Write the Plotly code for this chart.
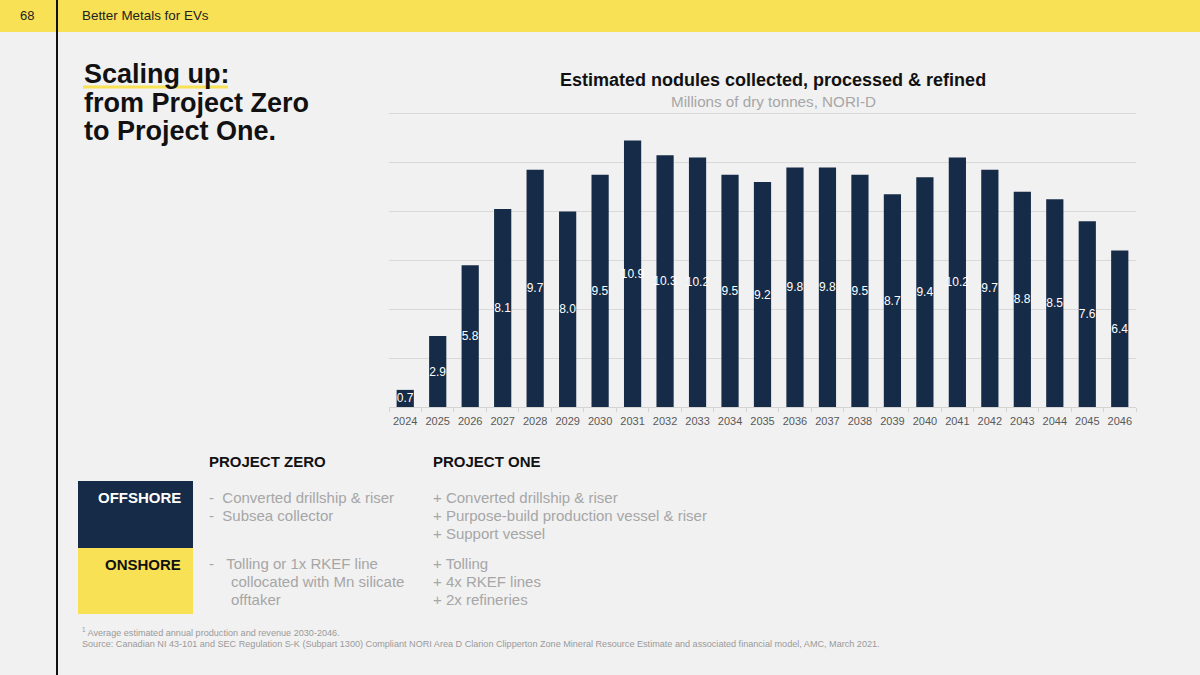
import plotly.graph_objects as go

years = [str(y) for y in range(2024, 2047)]
values = [0.7, 2.9, 5.8, 8.1, 9.7, 8.0, 9.5, 10.9, 10.3, 10.2, 9.5, 9.2,
          9.8, 9.8, 9.5, 8.7, 9.4, 10.2, 9.7, 8.8, 8.5, 7.6, 6.4]
value_labels = [f"{v:.1f}" for v in values]

chart_title = "Estimated nodules collected, processed & refined"
chart_subtitle = "Millions of dry tonnes, NORI-D"

zero_offshore = ["-  Converted drillship & riser", "-  Subsea collector"]
one_offshore = ["+ Converted drillship & riser", "+ Purpose-build production vessel & riser", "+ Support vessel"]
zero_onshore = ["-   Tolling or 1x RKEF line", "collocated with Mn silicate", "offtaker"]
one_onshore = ["+ Tolling", "+ 4x RKEF lines", "+ 2x refineries"]

W, H = 1200, 675
NAVY = "#162B47"
YELLOW = "#F8E154"
BG = "#F1F1F1"
FONT = "Arial, Liberation Sans, sans-serif"


def px(x):
    return x / W


def py(y):
    return 1 - y / H


fig = go.Figure()
fig.add_trace(go.Bar(
    x=years, y=values, text=value_labels,
    marker_color=NAVY, marker_line_width=0,
    textposition="inside", insidetextanchor="middle",
    textangle=0, constraintext="none",
    textfont=dict(color="white", size=12, family=FONT),
    cliponaxis=False, hoverinfo="skip",
))

fig.update_layout(
    width=W, height=H, margin=dict(l=0, r=0, t=0, b=0),
    paper_bgcolor=BG, plot_bgcolor=BG, showlegend=False,
    bargap=0.47,
    font=dict(family=FONT),
    xaxis=dict(domain=[px(389), px(1136)], showgrid=False,
               showline=True, linecolor="#D4D4D4", linewidth=1,
               ticks="outside", tickson="boundaries", ticklen=4, tickcolor="#D4D4D4",
               tickangle=0, ticklabelstandoff=4,
               tickfont=dict(size=11, color="#595959", family=FONT)),
    yaxis=dict(domain=[py(407), py(407 - 12.5 * 24.45)], range=[0, 12.5], dtick=2,
               showgrid=True, gridcolor="#D9D9D9", gridwidth=1,
               zeroline=False, showticklabels=False),
)

shapes = [
    dict(type="rect", xref="paper", yref="paper", x0=0, x1=1, y0=py(32), y1=1,
         fillcolor=YELLOW, line_width=0, layer="below"),
    dict(type="line", xref="paper", yref="paper", x0=px(57), x1=px(57), y0=0, y1=1,
         line=dict(color="#111111", width=2)),
    dict(type="line", xref="paper", yref="paper", x0=px(83), x1=px(228), y0=py(87), y1=py(87),
         line=dict(color=YELLOW, width=3)),
    dict(type="rect", xref="paper", yref="paper", x0=px(78), x1=px(193), y0=py(548), y1=py(481),
         fillcolor=NAVY, line_width=0),
    dict(type="rect", xref="paper", yref="paper", x0=px(78), x1=px(193), y0=py(614), y1=py(548),
         fillcolor=YELLOW, line_width=0),
]
fig.update_layout(shapes=shapes)

ann = []


def text(x, y, s, size, color, bold=False, xanchor="left"):
    ann.append(dict(xref="paper", yref="paper", x=px(x), y=py(y), text=(f"<b>{s}</b>" if bold else s),
                    showarrow=False, xanchor=xanchor, yanchor="middle",
                    font=dict(size=size, color=color, family=FONT)))


text(27, 16, "68", 13, "#222222", xanchor="center")
text(80, 16, "Better Metals for EVs", 13.4, "#222222")

text(82, 74, "Scaling up:", 27, "#111111", bold=True)
text(82, 103, "from Project Zero", 27, "#111111", bold=True)
text(82, 131, "to Project One.", 27, "#111111", bold=True)

text(773, 80, chart_title, 18, "#111111", bold=True, xanchor="center")
text(773, 101, chart_subtitle, 15.2, "#A6A6A6", xanchor="center")

text(207, 461, "PROJECT ZERO", 15, "#111111", bold=True)
text(431, 461, "PROJECT ONE", 15, "#111111", bold=True)
text(183, 497, "OFFSHORE", 15, "white", bold=True, xanchor="right")
text(183, 564, "ONSHORE", 15, "#111111", bold=True, xanchor="right")

for i, s in enumerate(zero_offshore):
    text(207, 497 + 18 * i, s, 15, "#A6A6A6")
for i, s in enumerate(one_offshore):
    text(431, 497 + 18 * i, s, 15, "#A6A6A6")
for i, s in enumerate(zero_onshore):
    text(207 if i == 0 else 229, 563 + 18 * i, s, 15, "#A6A6A6")
for i, s in enumerate(one_onshore):
    text(431, 563 + 18 * i, s, 15, "#A6A6A6")

text(80, 632, "<sup>1</sup> Average estimated annual production and revenue 2030-2046.", 9.1, "#9A9A9A")
text(80, 644, "Source: Canadian NI 43-101 and SEC Regulation S-K (Subpart 1300) Compliant NORI Area D Clarion "
              "Clipperton Zone Mineral Resource Estimate and associated financial model, AMC, March 2021.", 9.1, "#9A9A9A")

fig.update_layout(annotations=ann)
fig.write_html("out.html", config={"displayModeBar": False},
               post_script="document.body.style.margin='0';document.body.style.padding='0';")
